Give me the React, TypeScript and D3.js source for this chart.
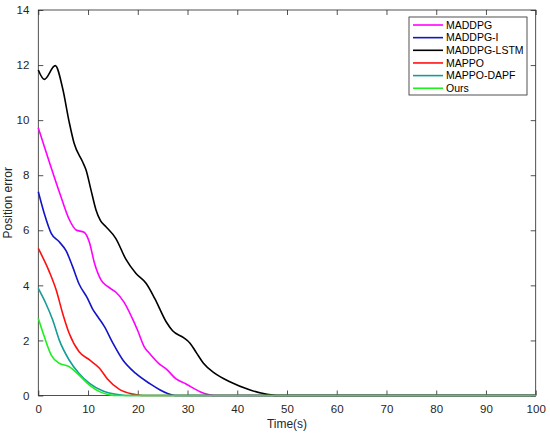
import React, { useEffect, useRef } from "react";
import * as d3 from "d3";

// values
const seriesNames = ["MADDPG", "MADDPG-I", "MADDPG-LSTM", "MAPPO", "MAPPO-DAPF", "Ours"];
const seriesColors = ["#ff00ff", "#1414c8", "#000000", "#ff1010", "#169c96", "#1ef01e"];

const maddpgT = [0, 2.2, 4.4, 6.2, 7.6, 9.2, 10.3, 11.3, 12.6, 14, 15.6, 17.2, 18.9, 20, 21.3, 22.5, 24.3, 25.8, 27.7, 29.7, 32.5, 35.5, 100];
const maddpgV = [9.72, 8.49, 7.3, 6.4, 6.01, 5.93, 5.55, 4.8, 4.2, 3.95, 3.75, 3.4, 2.8, 2.35, 1.77, 1.5, 1.15, 0.95, 0.6, 0.42, 0.14, 0, 0];

const maddpgIT = [0, 1.2, 2.6, 4.2, 5.6, 6.9, 8.2, 9.9, 10.9, 12, 13.3, 15, 17, 19.6, 22.5, 24.5, 26, 27.5, 100];
const maddpgIV = [7.4, 6.61, 5.89, 5.58, 5.25, 4.68, 4.05, 3.53, 3.15, 2.85, 2.5, 1.9, 1.29, 0.8, 0.42, 0.2, 0.07, 0, 0];

const lstmT = [0, 1.2, 3.4, 4.9, 6.2, 7.2, 8.9, 9.6, 10.6, 11.6, 12.5, 13.6, 15.6, 17.6, 19.6, 21.7, 23.4, 25.8, 27, 29.2, 30.5, 31.8, 33.2, 35.5, 38.5, 42.6, 45, 48, 100];
const lstmV = [11.82, 11.48, 11.98, 11.15, 9.94, 9.16, 8.49, 8.19, 7.46, 6.74, 6.35, 6.13, 5.7, 4.95, 4.44, 4.07, 3.53, 2.65, 2.35, 2.1, 1.9, 1.55, 1.17, 0.8, 0.5, 0.2, 0.08, 0, 0];

const mappoT = [0, 2.2, 3.6, 4.9, 6.2, 8.2, 10.3, 12.3, 13.9, 16.3, 19, 21, 100];
const mappoV = [5.34, 4.5, 3.83, 2.98, 2.26, 1.59, 1.29, 0.99, 0.6, 0.22, 0.05, 0, 0];

const dapfT = [0, 1.5, 2.9, 4.2, 6.2, 8.2, 10.3, 12.9, 15.6, 17.5, 100];
const dapfV = [3.89, 3.35, 2.74, 2.02, 1.29, 0.8, 0.44, 0.17, 0.04, 0, 0];

const oursT = [0, 1.2, 2.6, 4.2, 6.2, 8.2, 10.3, 12.3, 14.2, 16, 100];
const oursV = [2.8, 2.14, 1.47, 1.17, 1.05, 0.74, 0.38, 0.14, 0.03, 0, 0];

const xTicks = [0, 10, 20, 30, 40, 50, 60, 70, 80, 90, 100];
const yTicks = [0, 2, 4, 6, 8, 10, 12, 14];

const seriesT = [maddpgT, maddpgIT, lstmT, mappoT, dapfT, oursT];
const seriesV = [maddpgV, maddpgIV, lstmV, mappoV, dapfV, oursV];

const W = 550;
const H = 434;
const margin = { top: 10, right: 14.3, bottom: 38.5, left: 38.3 };

export default function App() {
  const svgRef = useRef<SVGSVGElement>(null);

  useEffect(() => {
    if (!svgRef.current) return;
    const svg = d3.select(svgRef.current);
    svg.selectAll("*").remove();

    const chartW = W - margin.left - margin.right;
    const chartH = H - margin.top - margin.bottom;
    const font = "'Liberation Sans', Arial, sans-serif";
    const axisColor = "#262626";

    const x = d3.scaleLinear().domain([0, 100]).range([0, chartW]);
    const y = d3.scaleLinear().domain([0, 14]).range([chartH, 0]);

    svg.append("rect").attr("width", W).attr("height", H).attr("fill", "#fff");

    const g = svg.append("g").attr("transform", `translate(${margin.left},${margin.top})`);

    g.append("defs")
      .append("clipPath")
      .attr("id", "plotClip")
      .append("rect")
      .attr("x", -2)
      .attr("y", -2)
      .attr("width", chartW + 4)
      .attr("height", chartH + 4);

    // MATLAB-style box with inward ticks on all four sides
    const tickLen = 5;
    const xAxis = g.append("g").attr("transform", `translate(0,${chartH})`)
      .call(d3.axisBottom(x).tickValues(xTicks).tickSize(-tickLen).tickPadding(9) as any);
    const xTop = g.append("g")
      .call(d3.axisTop(x).tickValues(xTicks).tickSize(-tickLen).tickFormat(() => "") as any);
    const yAxis = g.append("g")
      .call(d3.axisLeft(y).tickValues(yTicks).tickSize(-tickLen).tickPadding(9) as any);
    const yRight = g.append("g").attr("transform", `translate(${chartW},0)`)
      .call(d3.axisRight(y).tickValues(yTicks).tickSize(-tickLen).tickFormat(() => "") as any);

    [xAxis, xTop, yAxis, yRight].forEach((a) => {
      a.select(".domain").remove();
      a.selectAll("line").attr("stroke", axisColor).attr("stroke-width", 0.8);
      a.selectAll("text").attr("fill", axisColor).style("font-family", font).style("font-size", "11.5px");
    });

    g.append("rect")
      .attr("width", chartW)
      .attr("height", chartH)
      .attr("fill", "none")
      .attr("stroke", axisColor)
      .attr("stroke-width", 0.8);

    const line = d3
      .line<[number, number]>()
      .x((d) => x(d[0]))
      .y((d) => y(d[1]))
      .curve(d3.curveMonotoneX);

    const plot = g.append("g").attr("clip-path", "url(#plotClip)");
    seriesNames.forEach((name, i) => {
      const pts = seriesT[i].map((t, k) => [t, seriesV[i][k]] as [number, number]);
      plot.append("path")
        .attr("d", line(pts) || "")
        .attr("fill", "none")
        .attr("stroke", seriesColors[i])
        .attr("stroke-width", 1.6)
        .attr("stroke-linejoin", "round");
    });

    // axis labels
    g.append("text")
      .attr("x", chartW / 2)
      .attr("y", chartH + 32)
      .attr("text-anchor", "middle")
      .attr("fill", axisColor)
      .style("font-family", font)
      .style("font-size", "12px")
      .text("Time(s)");

    g.append("text")
      .attr("transform", `translate(${-26},${chartH / 2}) rotate(-90)`)
      .attr("text-anchor", "middle")
      .attr("fill", axisColor)
      .style("font-family", font)
      .style("font-size", "12px")
      .text("Position error");

    // legend
    const lg = svg.append("g").attr("transform", "translate(409,17)");
    lg.append("rect")
      .attr("width", 118)
      .attr("height", 78)
      .attr("fill", "#fff")
      .attr("stroke", axisColor)
      .attr("stroke-width", 0.8);
    seriesNames.forEach((name, i) => {
      const cy = 8 + i * 12.65;
      lg.append("line")
        .attr("x1", 4)
        .attr("x2", 34)
        .attr("y1", cy)
        .attr("y2", cy)
        .attr("stroke", seriesColors[i])
        .attr("stroke-width", 1.6);
      lg.append("text")
        .attr("x", 37)
        .attr("y", cy)
        .attr("dy", "0.35em")
        .attr("fill", "#000")
        .style("font-family", font)
        .style("font-size", "10.5px")
        .text(name);
    });
  }, []);

  return (
    <svg
      ref={svgRef}
      width={W}
      height={H}
      style={{ position: "absolute", left: 0, top: 0 }}
    />
  );
}
